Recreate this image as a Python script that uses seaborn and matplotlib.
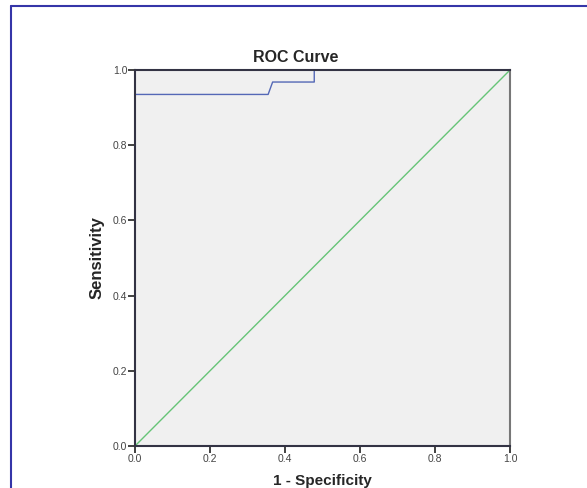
import numpy as np
import pandas as pd
import matplotlib
matplotlib.use("Agg")
import matplotlib.pyplot as plt
import seaborn as sns
from matplotlib.lines import Line2D

# ---------------------------
# DATA
# ---------------------------
fpr = [0.0, 0.0, 0.355, 0.367, 0.478, 0.478, 1.0]
tpr = [0.0, 0.935, 0.935, 0.968, 0.968, 1.0, 1.0]
ref_x = [0.0, 1.0]
ref_y = [0.0, 1.0]
ticks = [0.0, 0.2, 0.4, 0.6, 0.8, 1.0]
tick_labels = ["0.0", "0.2", "0.4", "0.6", "0.8", "1.0"]

roc_df = pd.DataFrame({"fpr": fpr, "tpr": tpr})
ref_df = pd.DataFrame({"x": ref_x, "y": ref_y})

# ---------------------------
# STYLE
# ---------------------------
sns.set_style("white")
plt.rcParams['font.family'] = ['Liberation Sans', 'DejaVu Sans']

fig = plt.figure(figsize=(5.87, 4.88), dpi=100)
ax = fig.add_axes([135 / 587, 1 - 446 / 488, 375 / 587, 376 / 488])
ax.set_facecolor("#F0F0F0")

sns.lineplot(data=roc_df, x="fpr", y="tpr", sort=False, estimator=None,
             color="#5468B6", linewidth=1.0, ax=ax)
sns.lineplot(data=ref_df, x="x", y="y", sort=False, estimator=None,
             color="#66C477", linewidth=1.0, ax=ax)

ax.set_xlim(0, 1)
ax.set_ylim(0, 1)
ax.set_xticks(ticks)
ax.set_xticklabels(tick_labels)
ax.set_yticks(ticks)
ax.set_yticklabels(tick_labels)
ax.tick_params(axis="both", direction="out", length=5, width=1.3,
               color="#333333", labelsize=7.5, labelcolor="#444444", pad=0.5,
               bottom=True, left=True)

for side in ["left", "bottom", "top"]:
    ax.spines[side].set_color("#333344")
    ax.spines[side].set_linewidth(1.5)
ax.spines["right"].set_color("#777777")
ax.spines["right"].set_linewidth(1.5)

ax.set_xlabel("")
ax.set_ylabel("")

# labels placed like the SPSS output
fig.text(322 / 587, 0.5 / 488, "1 - Specificity", ha="center", va="bottom",
         fontsize=11, fontweight="bold")
fig.text(97 / 587, 1 - 258 / 488, "Sensitivity", ha="center", va="center",
         rotation=90, fontsize=12, fontweight="bold")
fig.text(296 / 587, 1 - 58 / 488, "ROC Curve", ha="center", va="center",
         fontsize=11.5, fontweight="bold")

# outer frame (blue)
fig.add_artist(Line2D([11 / 587, 11 / 587], [0, 1 - 6 / 488],
                      transform=fig.transFigure, color="#3535A8", linewidth=1.5))
fig.add_artist(Line2D([11 / 587, 1], [1 - 6 / 488, 1 - 6 / 488],
                      transform=fig.transFigure, color="#3535A8", linewidth=1.5))

fig.savefig("out.png", dpi=100)
